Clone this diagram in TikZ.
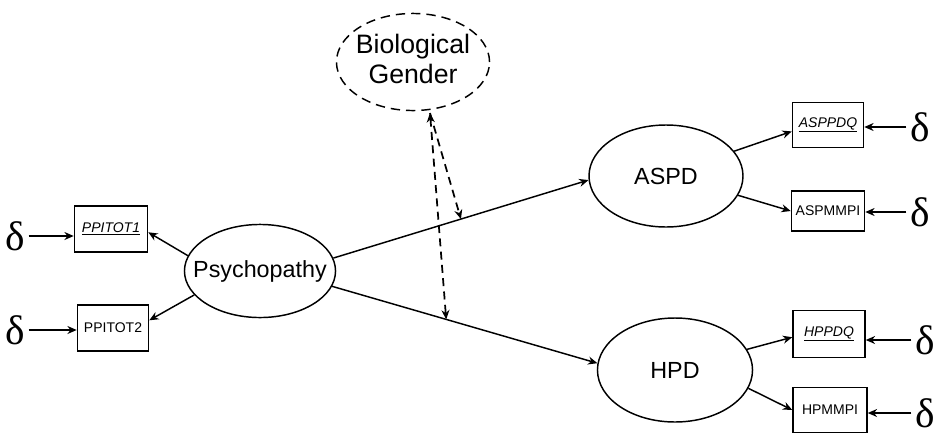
\documentclass[tikz,border=0pt]{standalone}
\usepackage{fontspec}
\setmainfont{Liberation Sans}
\newfontfamily\dfont{Liberation Serif}
\usetikzlibrary{shapes.geometric,arrows.meta}
\begin{document}
\begin{tikzpicture}[x=0.75pt,y=-0.75pt,
  lat/.style={ellipse,draw,line width=1.1pt,inner sep=0pt,font=\fontsize{17.5}{22}\selectfont},
  obs/.style={rectangle,draw,line width=1.1pt,inner sep=0pt,font=\fontsize{10.5}{12}\selectfont},
  err/.style={inner sep=0pt,outer sep=3pt,font=\dfont\fontsize{31}{31}\selectfont},
  arr/.style={line width=1.1pt,-{Stealth[length=7pt,width=6pt]}},
  modarr/.style={line width=1.3pt,dash pattern=on 6pt off 4pt,-{Stealth[length=7pt,width=6pt]}}]
\useasboundingbox (0,0) rectangle (943,436);

% latent variables
\node[lat,dash pattern=on 7pt off 4.5pt,minimum width=114.8pt,minimum height=72.8pt] (gen) at (413,62)
  {\makebox[0pt]{\raisebox{-2.5pt}{\fontsize{20}{22.5}\selectfont\begin{tabular}{@{}c@{}}Biological\\Gender\end{tabular}}}};
\node[lat,minimum width=113.3pt,minimum height=69.8pt] (psy) at (260,271) {\makebox[0pt]{Psychopathy}};
\node[lat,minimum width=115.5pt,minimum height=76.5pt] (aspd) at (666,176) {\makebox[0pt]{ASPD}};
\node[lat,minimum width=116.3pt,minimum height=78pt] (hpd) at (675,370) {\makebox[0pt]{HPD}};

% indicators
\node[obs,minimum width=54.8pt,minimum height=34.5pt] (p1) at (111,229) {\underline{\textit{PPITOT1}}};
\node[obs,minimum width=53.3pt,minimum height=34.5pt] (p2) at (113,328) {PPITOT2};
\node[obs,minimum width=53.3pt,minimum height=33.8pt] (a1) at (828,125) {\underline{\textit{ASPPDQ}}};
\node[obs,minimum width=54.8pt,minimum height=30pt] (a2) at (828,211) {ASPMMPI};
\node[obs,minimum width=54pt,minimum height=35.3pt] (h1) at (829,334) {\underline{\textit{HPPDQ}}};
\node[obs,minimum width=55.5pt,minimum height=33.8pt] (h2) at (830,410) {HPMMPI};

% errors
\node[err] (d1) at (15,236) {δ};
\node[err] (d2) at (15,330) {δ};
\node[err] (d3) at (920,127) {δ};
\node[err] (d4) at (920,212) {δ};
\node[err] (d5) at (925,340) {δ};
\node[err] (d6) at (925,413) {δ};

% error arrows
\draw[arr] (d1) -- (p1.west |- d1);
\draw[arr] (d2) -- (p2.west |- d2);
\draw[arr] (d3) -- (a1.east |- d3);
\draw[arr] (d4) -- (a2.east |- d4);
\draw[arr] (d5) -- (h1.east |- d5);
\draw[arr] (d6) -- (h2.east |- d6);

% loadings
\draw[arr] (psy.168) -- (p1.-5);
\draw[arr] (psy.200) -- (p2.12);
\draw[arr] (aspd.20) -- (a1.190);
\draw[arr] (aspd.-15) -- (a2.west);
\draw[arr] (hpd.16) -- (h1.185);
\draw[arr] (hpd.-14) -- (h2.west);

% structural paths
\draw[arr] (psy.10) -- coordinate[pos=0.5] (m1) (aspd.183);
\draw[arr] (psy.-12) -- coordinate[pos=0.43] (m2) (hpd.175);

% moderation
\coordinate (g0) at (430,113);
\draw[modarr] (g0) -- (m1);
\draw[modarr,{Stealth[length=7pt,width=6pt]}-{Stealth[length=7pt,width=6pt]}] (g0) -- (m2);
\end{tikzpicture}
\end{document}
